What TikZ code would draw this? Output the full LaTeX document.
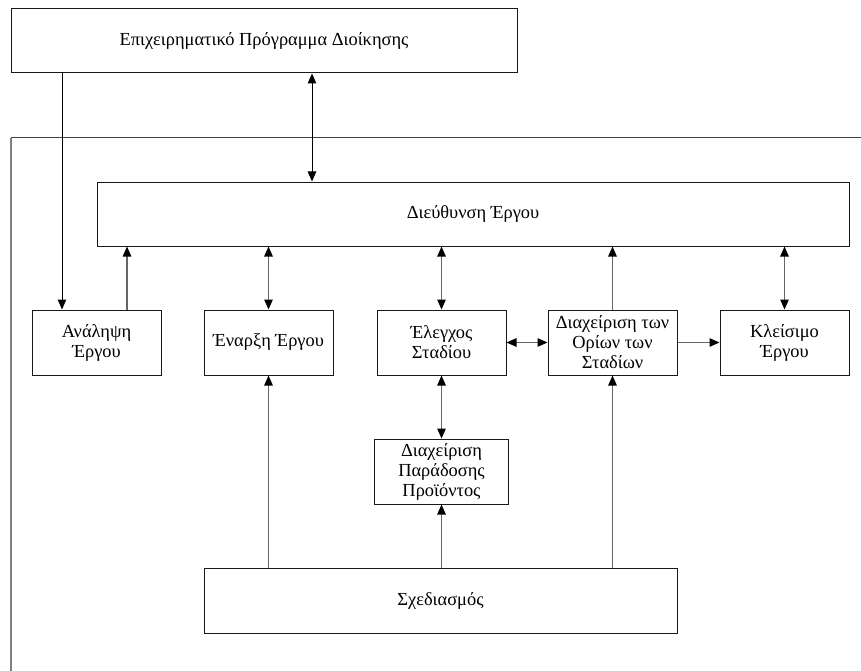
\documentclass[tikz,border=0pt]{standalone}
\usepackage{fontspec}
\setmainfont{Liberation Serif}
\usetikzlibrary{arrows.meta}

\begin{document}
\begin{tikzpicture}[x=1pt,y=-1pt,
  box/.style={draw=black!90,line width=1pt,fill=white,align=center,inner sep=0pt,
    font=\fontsize{18.4}{20}\selectfont},
  link/.style={draw=black!60,line width=1.2pt},
  >={Triangle[length=10pt,width=8.5pt,color=black]}]
\useasboundingbox (0,0) rectangle (861,671);
\begin{scope}
  \draw[black!50,line width=1.3pt] (11,671) -- (11,138);
  \draw[black!75,line width=1pt] (11,138) -- (861,138);
\end{scope}
\begin{scope}
  \node[box,minimum width=506pt,minimum height=64pt] (bsp) at (264,41) {Επιχειρηματικό Πρόγραμμα Διοίκησης};
  \node[box,minimum width=752pt,minimum height=64pt] (dir) at (473,214) {Διεύθυνση Έργου};
  \node[box,minimum width=129pt,minimum height=65pt] (anal) at (96.5,342.5) {Ανάληψη\\Έργου};
  \node[box,minimum width=129pt,minimum height=65pt] (enar) at (268.5,342.5) {Έναρξη Έργου};
  \node[box,minimum width=129pt,minimum height=65pt] (eleg) at (441.5,342.5) {Έλεγχος\\Σταδίου};
  \node[box,minimum width=129pt,minimum height=65pt] (orio) at (612.5,342.5) {Διαχείριση των\\Ορίων των\\Σταδίων};
  \node[box,minimum width=129pt,minimum height=65pt] (kleis) at (784.5,342.5) {Κλείσιμο\\Έργου};
  \node[box,minimum width=134pt,minimum height=65pt] (parad) at (441.5,471.5) {Διαχείριση\\Παράδοσης\\Προϊόντος};
  \node[box,minimum width=473pt,minimum height=65pt] (sched) at (440.5,600.5) {Σχεδιασμός};
\end{scope}
\coordinate (xa) at (62,0);
\coordinate (xb) at (127,0);
\coordinate (xc) at (312,0);
\begin{scope}
  \draw[link,draw=black,line width=1pt,<->] (bsp.south -| xc) -- (dir.north -| xc);
  \draw[link,draw=black,line width=1pt,->] (bsp.south -| xa) -- (anal.north -| xa);
  \draw[link,->] (anal.north -| xb) -- (dir.south -| xb);
  \draw[link,<->] (enar.north) -- (enar.north |- dir.south);
  \draw[link,<->] (eleg.north) -- (eleg.north |- dir.south);
  \draw[link,->] (orio.north) -- (orio.north |- dir.south);
  \draw[link,<->] (kleis.north) -- (kleis.north |- dir.south);
  \draw[link,<->] (eleg.east) -- (orio.west);
  \draw[link,->] (orio.east) -- (kleis.west);
  \draw[link,<->] (eleg.south) -- (parad.north);
  \draw[link,->] (sched.north -| enar.south) -- (enar.south);
  \draw[link,->] (sched.north -| parad.south) -- (parad.south);
  \draw[link,->] (sched.north -| orio.south) -- (orio.south);
\end{scope}
\end{tikzpicture}
\end{document}
